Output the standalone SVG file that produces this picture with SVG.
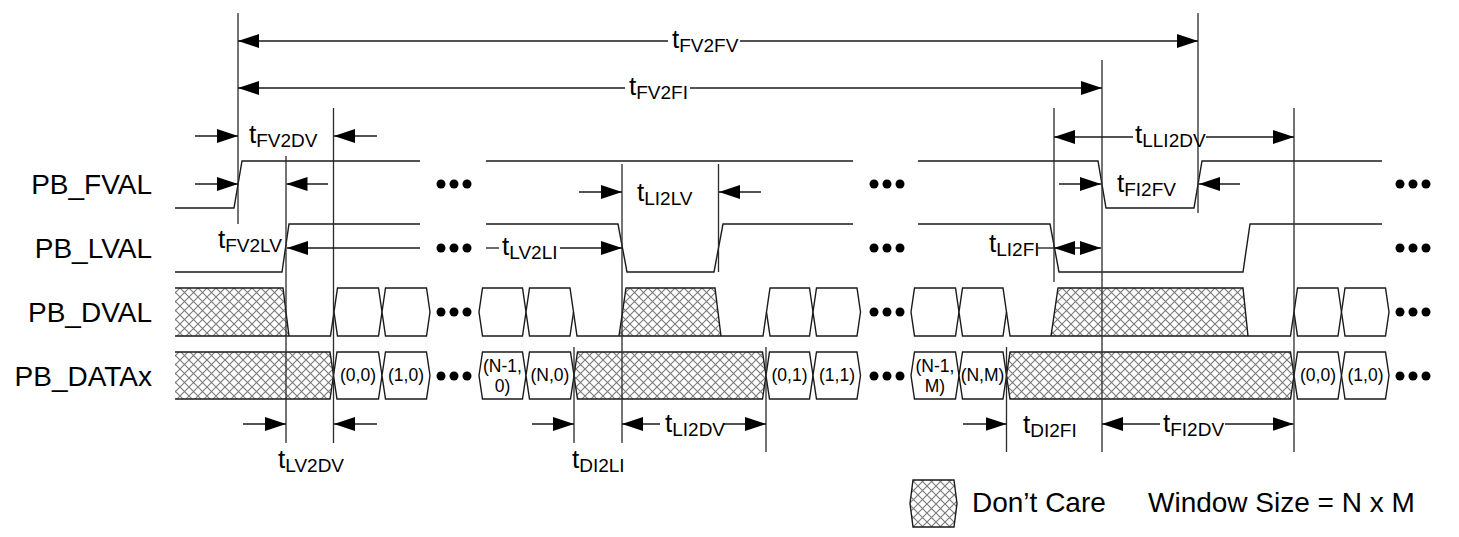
<svg xmlns="http://www.w3.org/2000/svg" width="1459" height="537" viewBox="0 0 1459 537">
<style>
.sig{fill:none;stroke:#1a1a1a;stroke-width:1.4}
.grid{stroke:#2a2a2a;stroke-width:1.3}
.arr{fill:none;stroke:#1a1a1a;stroke-width:1.3;marker-end:url(#ah)}
.ln{fill:none;stroke:#1a1a1a;stroke-width:1.3}
.box{fill:#fff;stroke:#1a1a1a;stroke-width:1.4}
.hat{fill:url(#xh);stroke:none}
.hatb{fill:url(#xh);stroke:#1a1a1a;stroke-width:1.4}
text{font-family:"Liberation Sans",Arial,Helvetica,sans-serif;fill:#000}
.name{font-size:28px}
.t{font-size:26px}
.sub{font-size:19px}
.val{font-size:17.5px;text-anchor:middle}
.leg{font-size:28px}
.dot{fill:#000}
</style>
<defs>
<pattern id="xh" patternUnits="userSpaceOnUse" width="9" height="9">
<rect width="9" height="9" fill="#fff"/>
<path d="M0,0 L9,9 M9,0 L0,9" stroke="#7a7a7a" stroke-width="1.1"/>
</pattern>
<marker id="ah" markerUnits="userSpaceOnUse" markerWidth="21" markerHeight="14" refX="21" refY="7" orient="auto-start-reverse">
<path d="M0,0 L21,7 L0,14 z" fill="#000"/>
</marker>
</defs>

<g id="signal-names">
<text class="name" x="152" y="194" text-anchor="end">PB_FVAL</text>
<text class="name" x="152" y="258" text-anchor="end">PB_LVAL</text>
<text class="name" x="152" y="322" text-anchor="end">PB_DVAL</text>
<text class="name" x="152" y="386" text-anchor="end">PB_DATAx</text>
</g>

<g id="PB_FVAL">
<path class="sig" d="M175,208 H234 L242,161 H420"/>
<path class="sig" d="M486,161 H853"/>
<path class="sig" d="M918,161 H1098 L1106,208 H1194 L1202,161 H1382"/>
</g>

<g id="PB_LVAL">
<path class="sig" d="M175,272 H282 L289,224 H420"/>
<path class="sig" d="M486,224 H618 L627,272 H714 L723,224 H853"/>
<path class="sig" d="M918,224 H1050 L1059,272 H1243 L1250,224 H1382"/>
</g>

<g id="PB_DVAL">
<polygon class="hat" points="175,288 283,288 289,336 175,336"/>
<path class="sig" d="M175,288 H283 L289,336"/>
<path class="sig" d="M175,336 H330.5 L334,312"/>
<polygon class="box" points="334,312 337.5,288 378.5,288 382,312 378.5,336 337.5,336"/>
<polygon class="box" points="382,312 385.5,288 426.5,288 430,312 426.5,336 385.5,336"/>
<polygon class="box" points="479,312 482.5,288 522.5,288 526,312 522.5,336 482.5,336"/>
<polygon class="box" points="526,312 529.5,288 570,288 573.5,312 570,336 529.5,336"/>
<polygon class="hat" points="619,336 626,288 715,288 721,336"/>
<path class="sig" d="M573.5,312 L577,336 H619 L626,288 H715 L721,336 H763 L766.5,312 M619,336 H721"/>
<polygon class="box" points="766.5,312 770,288 809.5,288 813,312 809.5,336 770,336"/>
<polygon class="box" points="813,312 816.5,288 857,288 860.5,312 857,336 816.5,336"/>
<polygon class="box" points="911,312 914.5,288 955.5,288 959,312 955.5,336 914.5,336"/>
<polygon class="box" points="959,312 962.5,288 1003,288 1006.5,312 1003,336 962.5,336"/>
<polygon class="hat" points="1051,336 1058,288 1243,288 1248,336"/>
<path class="sig" d="M1006.5,312 L1010,336 H1051 L1058,288 H1243 L1248,336 H1290.5 L1294,312 M1051,336 H1248"/>
<polygon class="box" points="1294,312 1297.5,288 1338,288 1341.5,312 1338,336 1297.5,336"/>
<polygon class="box" points="1341.5,312 1345,288 1385.5,288 1389,312 1385.5,336 1345,336"/>
</g>

<g id="PB_DATAx">
<polygon class="hat" points="175,352 330,352 333.5,375.5 330,399 175,399"/>
<path class="sig" d="M175,352 H330 L333.5,375.5 L330,399 H175"/>
<polygon class="box" points="333.5,375.5 337,352 378.5,352 382,375.5 378.5,399 337,399"/>
<polygon class="box" points="382,375.5 385.5,352 426.5,352 430,375.5 426.5,399 385.5,399"/>
<polygon class="box" points="479,375.5 482.5,352 522.5,352 526,375.5 522.5,399 482.5,399"/>
<polygon class="box" points="526,375.5 529.5,352 570.5,352 574,375.5 570.5,399 529.5,399"/>
<polygon class="hatb" points="574,375.5 577.5,352 762.5,352 766,375.5 762.5,399 577.5,399"/>
<polygon class="box" points="766,375.5 769.5,352 809.5,352 813,375.5 809.5,399 769.5,399"/>
<polygon class="box" points="813,375.5 816.5,352 857,352 860.5,375.5 857,399 816.5,399"/>
<polygon class="box" points="911,375.5 914.5,352 955.5,352 959,375.5 955.5,399 914.5,399"/>
<polygon class="box" points="959,375.5 962.5,352 1003,352 1006.5,375.5 1003,399 962.5,399"/>
<polygon class="hatb" points="1006.5,375.5 1010,352 1290.5,352 1294,375.5 1290.5,399 1010,399"/>
<polygon class="box" points="1294,375.5 1297.5,352 1338,352 1341.5,375.5 1338,399 1297.5,399"/>
<polygon class="box" points="1341.5,375.5 1345,352 1385.5,352 1389,375.5 1385.5,399 1345,399"/>
<text class="val" x="358" y="381">(0,0)</text>
<text class="val" x="406" y="381">(1,0)</text>
<text class="val" x="502.5" y="372">(N-1,</text>
<text class="val" x="502.5" y="392">0)</text>
<text class="val" x="550" y="381">(N,0)</text>
<text class="val" x="789.5" y="381">(0,1)</text>
<text class="val" x="837" y="381">(1,1)</text>
<text class="val" x="935" y="372">(N-1,</text>
<text class="val" x="935" y="392">M)</text>
<text class="val" x="982.5" y="381">(N,M)</text>
<text class="val" x="1318" y="381">(0,0)</text>
<text class="val" x="1365.5" y="381">(1,0)</text>
</g>

<g id="ellipses">
<circle class="dot" cx="441" cy="184" r="4.5"/><circle class="dot" cx="454" cy="184" r="4.5"/><circle class="dot" cx="467" cy="184" r="4.5"/>
<circle class="dot" cx="441" cy="248" r="4.5"/><circle class="dot" cx="454" cy="248" r="4.5"/><circle class="dot" cx="467" cy="248" r="4.5"/>
<circle class="dot" cx="441" cy="312" r="4.5"/><circle class="dot" cx="454" cy="312" r="4.5"/><circle class="dot" cx="467" cy="312" r="4.5"/>
<circle class="dot" cx="441" cy="376" r="4.5"/><circle class="dot" cx="454" cy="376" r="4.5"/><circle class="dot" cx="467" cy="376" r="4.5"/>
<circle class="dot" cx="874" cy="184" r="4.5"/><circle class="dot" cx="887" cy="184" r="4.5"/><circle class="dot" cx="900" cy="184" r="4.5"/>
<circle class="dot" cx="874" cy="248" r="4.5"/><circle class="dot" cx="887" cy="248" r="4.5"/><circle class="dot" cx="900" cy="248" r="4.5"/>
<circle class="dot" cx="874" cy="312" r="4.5"/><circle class="dot" cx="887" cy="312" r="4.5"/><circle class="dot" cx="900" cy="312" r="4.5"/>
<circle class="dot" cx="874" cy="376" r="4.5"/><circle class="dot" cx="887" cy="376" r="4.5"/><circle class="dot" cx="900" cy="376" r="4.5"/>
<circle class="dot" cx="1400" cy="184" r="4.5"/><circle class="dot" cx="1413" cy="184" r="4.5"/><circle class="dot" cx="1426" cy="184" r="4.5"/>
<circle class="dot" cx="1400" cy="248" r="4.5"/><circle class="dot" cx="1413" cy="248" r="4.5"/><circle class="dot" cx="1426" cy="248" r="4.5"/>
<circle class="dot" cx="1400" cy="312" r="4.5"/><circle class="dot" cx="1413" cy="312" r="4.5"/><circle class="dot" cx="1426" cy="312" r="4.5"/>
<circle class="dot" cx="1400" cy="376" r="4.5"/><circle class="dot" cx="1413" cy="376" r="4.5"/><circle class="dot" cx="1426" cy="376" r="4.5"/>
</g>

<g id="connectors">
<g id="guides">
<line class="grid" x1="238" y1="13" x2="238" y2="224"/>
<line class="grid" x1="333.5" y1="108" x2="333.5" y2="443"/>
<line class="grid" x1="286" y1="156" x2="286" y2="443"/>
<line class="grid" x1="622" y1="164" x2="622" y2="443"/>
<line class="grid" x1="718.5" y1="164" x2="718.5" y2="272"/>
<line class="grid" x1="574" y1="347" x2="574" y2="443"/>
<line class="grid" x1="766" y1="347" x2="766" y2="452"/>
<line class="grid" x1="1054" y1="108" x2="1054" y2="282"/>
<line class="grid" x1="1102" y1="60" x2="1102" y2="452"/>
<line class="grid" x1="1198" y1="13" x2="1198" y2="213"/>
<line class="grid" x1="1294" y1="108" x2="1294" y2="452"/>
<line class="grid" x1="1006.5" y1="347" x2="1006.5" y2="452"/>
</g>
<g id="arrows">
<path class="arr" d="M668,41 H238"/><path class="arr" d="M740,41 H1198"/>
<path class="arr" d="M625,88 H238"/><path class="arr" d="M690,88 H1102"/>
<path class="arr" d="M195,136 H238"/><path class="arr" d="M377,136 H334"/>
<path class="arr" d="M195,184 H238"/><path class="arr" d="M328,184 H286.5"/>
<path class="arr" d="M420,248 H287"/>
<path class="arr" d="M579,192 H622"/><path class="arr" d="M761,192 H719"/>
<path class="ln" d="M486,248 H499"/><path class="arr" d="M560,248 H622"/>
<path class="arr" d="M1133,137 H1054"/><path class="arr" d="M1206,137 H1294"/>
<path class="arr" d="M1059,184 H1101"/><path class="arr" d="M1240,184 H1199"/>
<path class="ln" d="M1038,248 H1054"/><path class="arr" d="M1054,248 H1101" marker-start="url(#ah)"/>
<path class="arr" d="M243,424 H286"/><path class="arr" d="M377,424 H334"/>
<path class="arr" d="M532,424 H574"/>
<path class="arr" d="M660,424 H622"/><path class="arr" d="M724,424 H766"/>
<path class="arr" d="M963,424 H1006.5"/>
<path class="arr" d="M1160,424 H1102"/><path class="arr" d="M1225,424 H1293.5"/>
</g>
</g>

<g id="timing-labels">
<text class="t" x="672" y="48">t<tspan class="sub" dy="4">FV2FV</tspan></text>
<text class="t" x="629" y="95">t<tspan class="sub" dy="4">FV2FI</tspan></text>
<text class="t" x="249" y="143">t<tspan class="sub" dy="4">FV2DV</tspan></text>
<text class="t" x="218" y="248">t<tspan class="sub" dy="4">FV2LV</tspan></text>
<text class="t" x="637" y="201">t<tspan class="sub" dy="4">LI2LV</tspan></text>
<text class="t" x="502" y="255">t<tspan class="sub" dy="4">LV2LI</tspan></text>
<text class="t" x="1135" y="143">t<tspan class="sub" dy="4">LLI2DV</tspan></text>
<text class="t" x="1117" y="192">t<tspan class="sub" dy="4">FI2FV</tspan></text>
<text class="t" x="989" y="252">t<tspan class="sub" dy="4">LI2FI</tspan></text>
<text class="t" x="278" y="468">t<tspan class="sub" dy="4">LV2DV</tspan></text>
<text class="t" x="572" y="468">t<tspan class="sub" dy="4">DI2LI</tspan></text>
<text class="t" x="665" y="432">t<tspan class="sub" dy="4">LI2DV</tspan></text>
<text class="t" x="1023" y="433">t<tspan class="sub" dy="4">DI2FI</tspan></text>
<text class="t" x="1163" y="432">t<tspan class="sub" dy="4">FI2DV</tspan></text>
</g>

<g id="legend">
<polygon class="hatb" points="910,503.5 913,480 954,480 957,503.5 954,527 913,527"/>
<text class="leg" x="972" y="512">Don’t Care</text>
<text class="leg" x="1148" y="512">Window Size = N x M</text>
</g>
</svg>
